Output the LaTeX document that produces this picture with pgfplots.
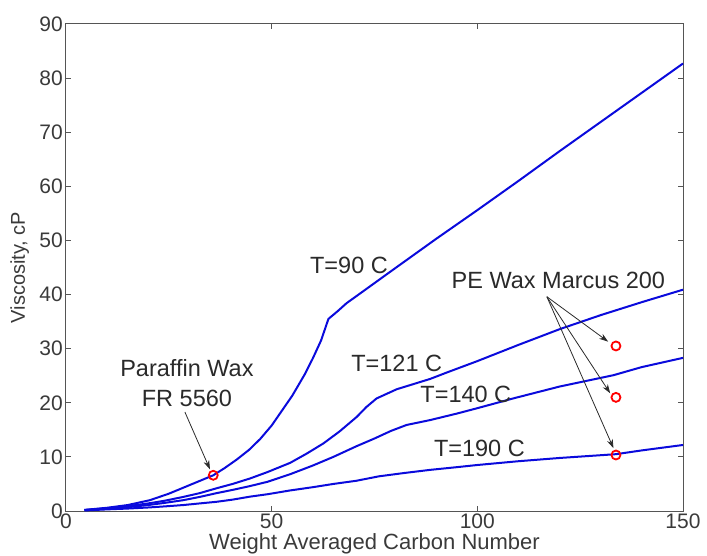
\documentclass[border=0pt]{standalone}
\usepackage{fontspec}
\setmainfont{Liberation Sans}
\usepackage{pgfplots}
\pgfplotsset{compat=1.18}
\usetikzlibrary{arrows.meta}
\definecolor{axgray}{HTML}{555555}
\definecolor{txtgray}{HTML}{3A3A3A}
\definecolor{curveblue}{RGB}{10,10,220}
\definecolor{annot}{HTML}{2A2A2A}
\begin{document}
\begin{tikzpicture}
\begin{axis}[
  at={(0,0)}, anchor=south west,
  scale only axis, width=617bp, height=487bp,
  xmin=0, xmax=150, ymin=0, ymax=90,
  xtick={0,50,100,150}, ytick={0,10,...,90},
  axis line style={axgray, line width=1bp},
  major tick style={axgray, line width=1bp},
  major tick length=5bp,
  tick align=inside,
  /pgf/number format/assume math mode=true,
  ticklabel style={font=\fontsize{21bp}{21bp}\selectfont, text=txtgray, inner sep=0pt},
  xticklabel style={anchor=north, yshift=-3bp},
  yticklabel style={anchor=east, xshift=-3bp},
  xlabel={Weight Averaged Carbon Number},
  ylabel={Viscosity, cP},
  every axis x label/.style={at={(axis description cs:0.5,-0.0785)}, anchor=base, font=\fontsize{22bp}{22bp}\selectfont, text=txtgray, inner sep=0pt},
  every axis y label/.style={at={(axis description cs:-0.0665,0.5)}, rotate=90, anchor=base, font=\fontsize{20bp}{20bp}\selectfont, text=txtgray, inner sep=0pt},
  clip=false,
]
\addplot[curveblue, line width=2bp, no marks] coordinates {
(4.5,0.2)(10,0.6)(15,1.1)(20.4,2.0)(25,3.2)(28.5,4.3)(32,5.4)(35.8,6.6)(38.5,7.9)(41.5,9.5)(44.5,11.3)(47.2,13.3)(50,15.8)(52,18.0)(55,21.3)(58,25.2)(60,28.2)(62,31.5)(63.8,35.5)(66,36.9)(68.2,38.4)(71.5,40.2)(78.8,44.2)(90,50.3)(100,55.6)(110,61)(120,66.5)(130,71.9)(140,77.3)(150,82.7)
};
\addplot[curveblue, line width=2bp, no marks] coordinates {
(4.5,0.2)(10,0.5)(15,0.9)(20,1.4)(24,1.9)(28.5,2.6)(32.5,3.3)(36.6,4.2)(40.5,5.0)(44.7,6.0)(49,7.2)(54.5,8.9)(58.5,10.6)(62.6,12.5)(66.5,14.7)(70.7,17.4)(73,19.2)(75.5,20.8)(80.4,22.5)(88.5,24.4)(92.6,25.6)(100,27.7)(110,30.7)(116.9,32.7)(120,33.6)(130,36.2)(140,38.6)(150,40.9)
};
\addplot[curveblue, line width=2bp, no marks] coordinates {
(4.5,0.15)(10,0.4)(15,0.7)(20,1.1)(24,1.5)(28.5,2.0)(32.5,2.6)(36.6,3.3)(40.5,3.9)(44.7,4.6)(49,5.4)(54.5,6.8)(60,8.4)(65,10.0)(70.7,12.0)(75,13.4)(79,14.8)(82.8,15.9)(88.5,16.8)(95,18.0)(100,19.0)(108.7,20.8)(120,23.0)(133.1,25.1)(140,26.6)(150,28.3)
};
\addplot[curveblue, line width=2bp, no marks] coordinates {
(4.5,0.1)(10,0.3)(15,0.45)(20,0.65)(24,0.85)(28.5,1.1)(32.5,1.4)(36.6,1.7)(40.5,2.1)(44.7,2.65)(49,3.1)(54.5,3.8)(60,4.4)(65,5.0)(70.7,5.6)(76,6.4)(82,7.0)(88.5,7.6)(95,8.1)(100,8.5)(110,9.2)(120,9.8)(133.7,10.5)(140,11.2)(150,12.2)
};
\addplot[only marks, mark=o, mark size=4.5bp, red, mark options={line width=1.8bp}] coordinates {
(35.8,6.6)(133.7,30.5)(133.7,21.0)(133.7,10.35)
};
\begin{scope}[font=\fontsize{23.5bp}{30bp}\selectfont, text=annot]
\node[anchor=center, inner sep=0pt] at (axis cs:68.8,45.4) {T=90 C};
\node[anchor=center, inner sep=0pt] at (axis cs:80.4,27.2) {T=121 C};
\node[anchor=center, inner sep=0pt] at (axis cs:97.2,21.5) {T=140 C};
\node[anchor=center, inner sep=0pt] at (axis cs:100.5,11.5) {T=190 C};
\node[anchor=center, inner sep=0pt] at (axis cs:119.7,42.6) {PE Wax Marcus 200};
\node[anchor=center, inner sep=0pt, align=center] at (axis cs:29.4,23.6) {Paraffin Wax\\FR 5560};
\end{scope}
\begin{scope}[annot, line width=0.8bp, -{Stealth[length=9bp,width=6bp]}]
\draw (axis cs:28.9,18.3) -- (axis cs:35.0,7.7);
\draw (axis cs:116.9,39.6) -- (axis cs:131.8,31.3);
\draw (axis cs:116.9,39.6) -- (axis cs:132.3,21.75);
\draw (axis cs:116.9,39.6) -- (axis cs:133.1,11.6);
\end{scope}
\end{axis}
\path (-66bp,-45bp) rectangle (641bp,511bp);
\end{tikzpicture}
\end{document}
